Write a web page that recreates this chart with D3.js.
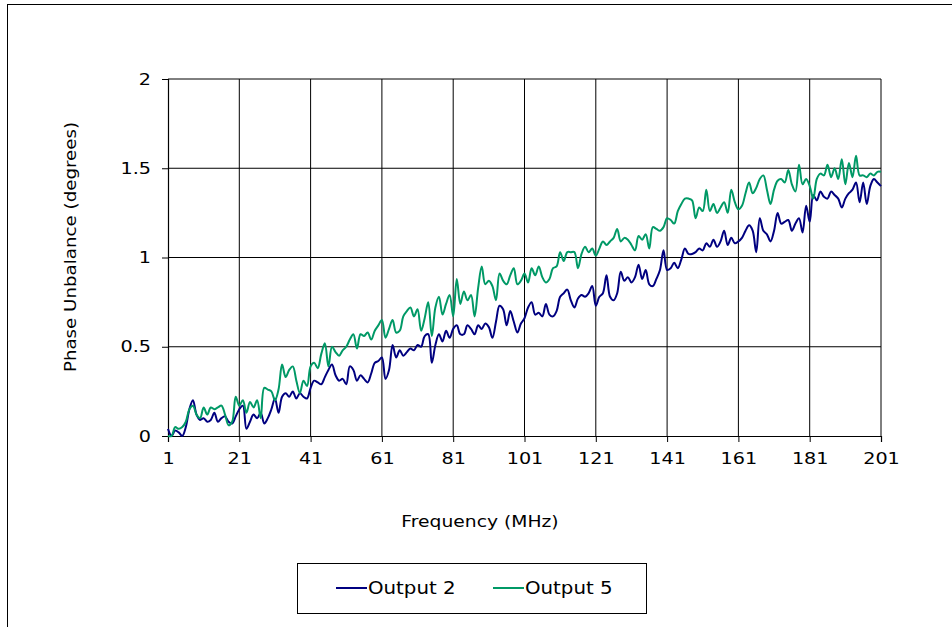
<!DOCTYPE html>
<html>
<head>
<meta charset="utf-8">
<title>Phase Unbalance</title>
<script src="https://d3js.org/d3.v7.min.js"></script>
<style>
  body { margin: 0; background: #fff; }
  svg { font-family: "DejaVu Sans", Verdana, sans-serif; }
</style>
</head>
<body>
<svg width="952" height="627"></svg>
<script>
// frequency points (MHz), 1..201
var freq = d3.range(1, 202);

var output2 = [
  0.04,0.00,0.03,0.02,0.00,0.05,0.15,0.20,0.12,0.09,
  0.10,0.08,0.09,0.13,0.08,0.10,0.11,0.08,0.07,0.11,
  0.15,0.17,0.04,0.08,0.12,0.10,0.13,0.07,0.10,0.15,
  0.21,0.13,0.22,0.24,0.22,0.25,0.21,0.24,0.22,0.21,
  0.27,0.31,0.30,0.29,0.33,0.37,0.40,0.34,0.31,0.32,
  0.29,0.39,0.37,0.31,0.34,0.32,0.30,0.35,0.41,0.42,
  0.44,0.32,0.37,0.51,0.44,0.48,0.45,0.47,0.49,0.48,
  0.51,0.50,0.56,0.57,0.41,0.51,0.57,0.53,0.59,0.55,
  0.60,0.62,0.57,0.57,0.62,0.60,0.57,0.62,0.60,0.63,
  0.61,0.55,0.64,0.73,0.71,0.62,0.70,0.64,0.58,0.63,
  0.66,0.72,0.75,0.68,0.69,0.67,0.74,0.68,0.67,0.70,
  0.78,0.80,0.82,0.76,0.72,0.77,0.79,0.78,0.80,0.84,
  0.73,0.78,0.80,0.90,0.78,0.76,0.80,0.92,0.87,0.89,
  0.86,0.89,0.96,0.88,0.93,0.85,0.84,0.88,0.93,1.04,
  0.93,0.94,0.97,0.94,0.99,1.05,1.02,1.02,1.03,1.05,
  1.04,1.08,1.06,1.10,1.06,1.09,1.15,1.07,1.11,1.08,
  1.09,1.11,1.15,1.18,1.15,1.03,1.22,1.15,1.13,1.09,
  1.15,1.25,1.19,1.20,1.21,1.15,1.19,1.22,1.14,1.29,
  1.20,1.35,1.32,1.37,1.34,1.33,1.37,1.35,1.33,1.28,
  1.33,1.36,1.38,1.42,1.31,1.42,1.30,1.40,1.44,1.42,
  1.40
];

var output5 = [
  0.00,0.00,0.05,0.04,0.05,0.08,0.15,0.17,0.12,0.10,
  0.16,0.12,0.16,0.15,0.16,0.17,0.12,0.06,0.08,0.22,
  0.17,0.20,0.13,0.19,0.16,0.20,0.10,0.27,0.26,0.25,
  0.20,0.26,0.40,0.33,0.37,0.39,0.31,0.24,0.31,0.28,
  0.39,0.41,0.38,0.46,0.52,0.39,0.50,0.47,0.45,0.48,
  0.50,0.54,0.57,0.49,0.57,0.56,0.58,0.54,0.59,0.62,
  0.65,0.55,0.60,0.65,0.58,0.59,0.67,0.70,0.72,0.67,
  0.71,0.59,0.66,0.75,0.56,0.72,0.78,0.68,0.74,0.79,
  0.67,0.88,0.74,0.81,0.76,0.79,0.67,0.83,0.95,0.85,
  0.87,0.84,0.76,0.91,0.87,0.85,0.90,0.94,0.85,0.87,
  0.91,0.86,0.94,0.90,0.95,0.89,0.86,0.88,0.94,0.95,
  1.03,0.98,1.03,1.03,1.03,0.94,1.02,1.06,1.03,1.05,
  1.01,1.05,1.09,1.07,1.09,1.11,1.16,1.09,1.11,1.10,
  1.07,1.04,1.12,1.10,1.13,1.05,1.17,1.16,1.15,1.17,
  1.22,1.21,1.19,1.26,1.30,1.33,1.33,1.32,1.22,1.28,
  1.26,1.38,1.26,1.30,1.25,1.28,1.31,1.25,1.38,1.31,
  1.27,1.29,1.36,1.42,1.36,1.39,1.44,1.46,1.38,1.30,
  1.38,1.43,1.44,1.42,1.49,1.41,1.37,1.52,1.41,1.44,
  1.40,1.33,1.44,1.47,1.46,1.52,1.45,1.50,1.44,1.55,
  1.41,1.53,1.45,1.57,1.46,1.46,1.45,1.47,1.46,1.48,
  1.48
];

var xTicks = [1, 21, 41, 61, 81, 101, 121, 141, 161, 181, 201];
var yTicks = [0, 0.5, 1, 1.5, 2];
var seriesNames = ["Output 2", "Output 5"];
var seriesColors = ["#000080", "#009966"];

// the original text is drawn a little wider than it is tall
var stretch = 1.2;

var svg = d3.select("svg");

// chart area frame (runs off the picture at right and bottom)
svg.append("rect")
  .attr("x", 7.5).attr("y", 4.5)
  .attr("width", 1000).attr("height", 700)
  .attr("fill", "none").attr("stroke", "#000").attr("stroke-width", 1);

var x = d3.scaleLinear().domain([1, 201]).range([168, 881]);
var y = d3.scaleLinear().domain([0, 2]).range([436, 79]);

// gridlines
svg.append("g").selectAll("line")
  .data(xTicks.slice(1))
  .enter().append("line")
    .attr("x1", function (d) { return x(d); })
    .attr("x2", function (d) { return x(d); })
    .attr("y1", y(0)).attr("y2", y(2))
    .attr("stroke", "#000").attr("stroke-width", 1);

svg.append("g").selectAll("line")
  .data(yTicks.slice(1))
  .enter().append("line")
    .attr("x1", x(1)).attr("x2", x(201))
    .attr("y1", function (d) { return y(d); })
    .attr("y2", function (d) { return y(d); })
    .attr("stroke", "#000").attr("stroke-width", 1);

// axes
var yAxis = svg.append("g")
  .attr("transform", "translate(168,0)")
  .call(d3.axisLeft(y).tickValues(yTicks).tickSize(6).tickPadding(0)
    .tickFormat(function (d) { return d; }));

var xAxis = svg.append("g")
  .attr("transform", "translate(0,436)")
  .call(d3.axisBottom(x).tickValues(xTicks).tickSize(6).tickPadding(11));

[yAxis, xAxis].forEach(function (a) {
  a.select(".domain").attr("stroke", "#000").attr("stroke-width", 1.2);
  a.selectAll(".tick line").attr("stroke", "#000");
  a.selectAll("text")
    .attr("fill", "#000")
    .style("font-size", "16px")
    .style("font-family", "'DejaVu Sans', Verdana, sans-serif");
});
xAxis.selectAll("text").attr("transform", "scale(" + stretch + ",1)");
yAxis.selectAll("text")
  .attr("x", -17 / stretch)
  .attr("transform", "scale(" + stretch + ",1)");

// lines
var line = d3.line()
  .x(function (d) { return x(d[0]); })
  .y(function (d) { return y(d[1]); })
  .curve(d3.curveCatmullRom.alpha(0.5));

[output2, output5].forEach(function (vals, i) {
  svg.append("path")
    .datum(freq.map(function (f, j) { return [f, vals[j]]; }))
    .attr("fill", "none")
    .attr("stroke", seriesColors[i])
    .attr("stroke-width", 2)
    .attr("stroke-linejoin", "round")
    .attr("d", line);
});

// axis titles
svg.append("text")
  .attr("transform", "translate(76,247) rotate(-90) scale(1.14,1)")
  .attr("text-anchor", "middle")
  .style("font-size", "16px")
  .text("Phase Unbalance (degrees)");

svg.append("text")
  .attr("transform", "translate(480,527) scale(1.17,1)")
  .attr("text-anchor", "middle")
  .style("font-size", "16px")
  .text("Frequency (MHz)");

// legend
svg.append("rect")
  .attr("x", 297.5).attr("y", 563.5)
  .attr("width", 349).attr("height", 50)
  .attr("fill", "#fff").attr("stroke", "#000").attr("stroke-width", 1);

var legendX = [336, 493];
seriesNames.forEach(function (name, i) {
  svg.append("line")
    .attr("x1", legendX[i]).attr("x2", legendX[i] + 31)
    .attr("y1", 588).attr("y2", 588)
    .attr("stroke", seriesColors[i]).attr("stroke-width", 2);
  svg.append("text")
    .attr("transform", "translate(" + (legendX[i] + 32) + ",594) scale(1.1,1)")
    .style("font-size", "18px")
    .text(name);
});
</script>
</body>
</html>
